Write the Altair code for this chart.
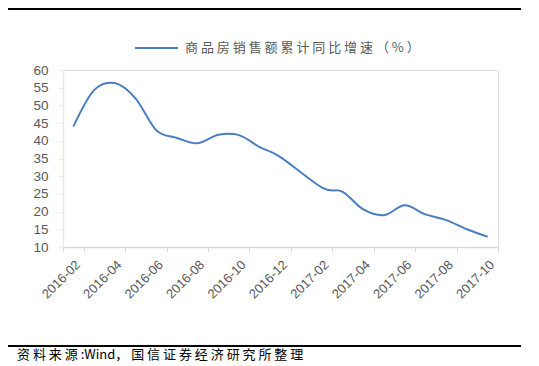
import altair as alt
import pandas as pd

# All 21 month slots of the axis (2016-02 .. 2017-10)
months = ["2016-02", "2016-03", "2016-04", "2016-05", "2016-06", "2016-07",
          "2016-08", "2016-09", "2016-10", "2016-11", "2016-12", "2017-01",
          "2017-02", "2017-03", "2017-04", "2017-05", "2017-06", "2017-07",
          "2017-08", "2017-09", "2017-10"]

# Reported months (no separate January figure)
data_months = ["2016-02", "2016-03", "2016-04", "2016-05", "2016-06", "2016-07",
               "2016-08", "2016-09", "2016-10", "2016-11", "2016-12",
               "2017-02", "2017-03", "2017-04", "2017-05", "2017-06", "2017-07",
               "2017-08", "2017-09", "2017-10"]
growth = [44.0, 54.3, 56.3, 52.0, 43.0, 40.8, 39.3, 41.7, 41.6, 38.2, 35.4,
          26.8, 25.6, 20.6, 19.0, 21.8, 19.2, 17.6, 15.0, 12.9]

y_ticks = [10, 15, 20, 25, 30, 35, 40, 45, 50, 55, 60]
x_label_values = months[::2]

series_name = "商品房销售额累计同比增速（%）"
source_text = "资料来源:Wind，国信证券经济研究所整理"


def spaced(s):
    return " ".join(list(s))


legend_label = spaced(series_name)
source_label = "资 料 来 源 :Wind， " + spaced("国信证券经济研究所整理")

LINE_COLOR = "#4a7ebf"
TEXT_GRAY = "#595959"

df = pd.DataFrame({"month": data_months, "value": growth})

line = alt.Chart(df).mark_line(
    color=LINE_COLOR, strokeWidth=2, interpolate="cardinal"
).encode(
    x=alt.X("month:O",
            scale=alt.Scale(type="band", domain=months, paddingInner=0, paddingOuter=0),
            axis=alt.Axis(values=x_label_values, labelAngle=-45, title=None,
                          labelFont="Liberation Sans", labelFontSize=13,
                          labelColor=TEXT_GRAY, tickColor="#d9d9d9",
                          domainColor="#d9d9d9", tickSize=5, tickBand="extent",
                          labelPadding=6, domainWidth=1.5)),
    y=alt.Y("value:Q",
            scale=alt.Scale(domain=[10, 60], nice=False, zero=False),
            axis=alt.Axis(values=y_ticks, title=None, grid=False,
                          labelFont="Liberation Sans", labelFontSize=13.5,
                          labelColor=TEXT_GRAY, tickColor="#ebe7dc",
                          domainColor="#ebe7dc", tickSize=4, labelPadding=11,
                          domainWidth=1.5)),
)

one = pd.DataFrame({"legend": [legend_label], "source": [source_label]})

top_rule = alt.Chart(one).mark_rule(color="black", strokeWidth=2).encode(
    x=alt.value(-55), x2=alt.value(458), y=alt.value(-61))
bottom_rule = alt.Chart(one).mark_rule(color="black", strokeWidth=2).encode(
    x=alt.value(-55), x2=alt.value(458), y=alt.value(276))
legend_rule = alt.Chart(one).mark_rule(color=LINE_COLOR, strokeWidth=2).encode(
    x=alt.value(72), x2=alt.value(115), y=alt.value(-22))
legend_text = alt.Chart(one).mark_text(
    align="left", baseline="middle", font="Noto Sans CJK SC", fontSize=13,
    color=TEXT_GRAY).encode(text="legend:N", x=alt.value(122), y=alt.value(-22))
source = alt.Chart(one).mark_text(
    align="left", baseline="middle", font="Noto Sans CJK SC", fontSize=13,
    color="black").encode(text="source:N", x=alt.value(-46), y=alt.value(285))

chart = alt.layer(line, top_rule, bottom_rule, legend_rule, legend_text, source).properties(
    width=435, height=177,
    padding={"left": 55, "top": 62, "right": 33, "bottom": 119},
    autosize=alt.AutoSizeParams(type="none"),
).configure_view(stroke=None).configure(background="white")

chart.save("out.html", embed_options={"renderer": "svg", "actions": False})
